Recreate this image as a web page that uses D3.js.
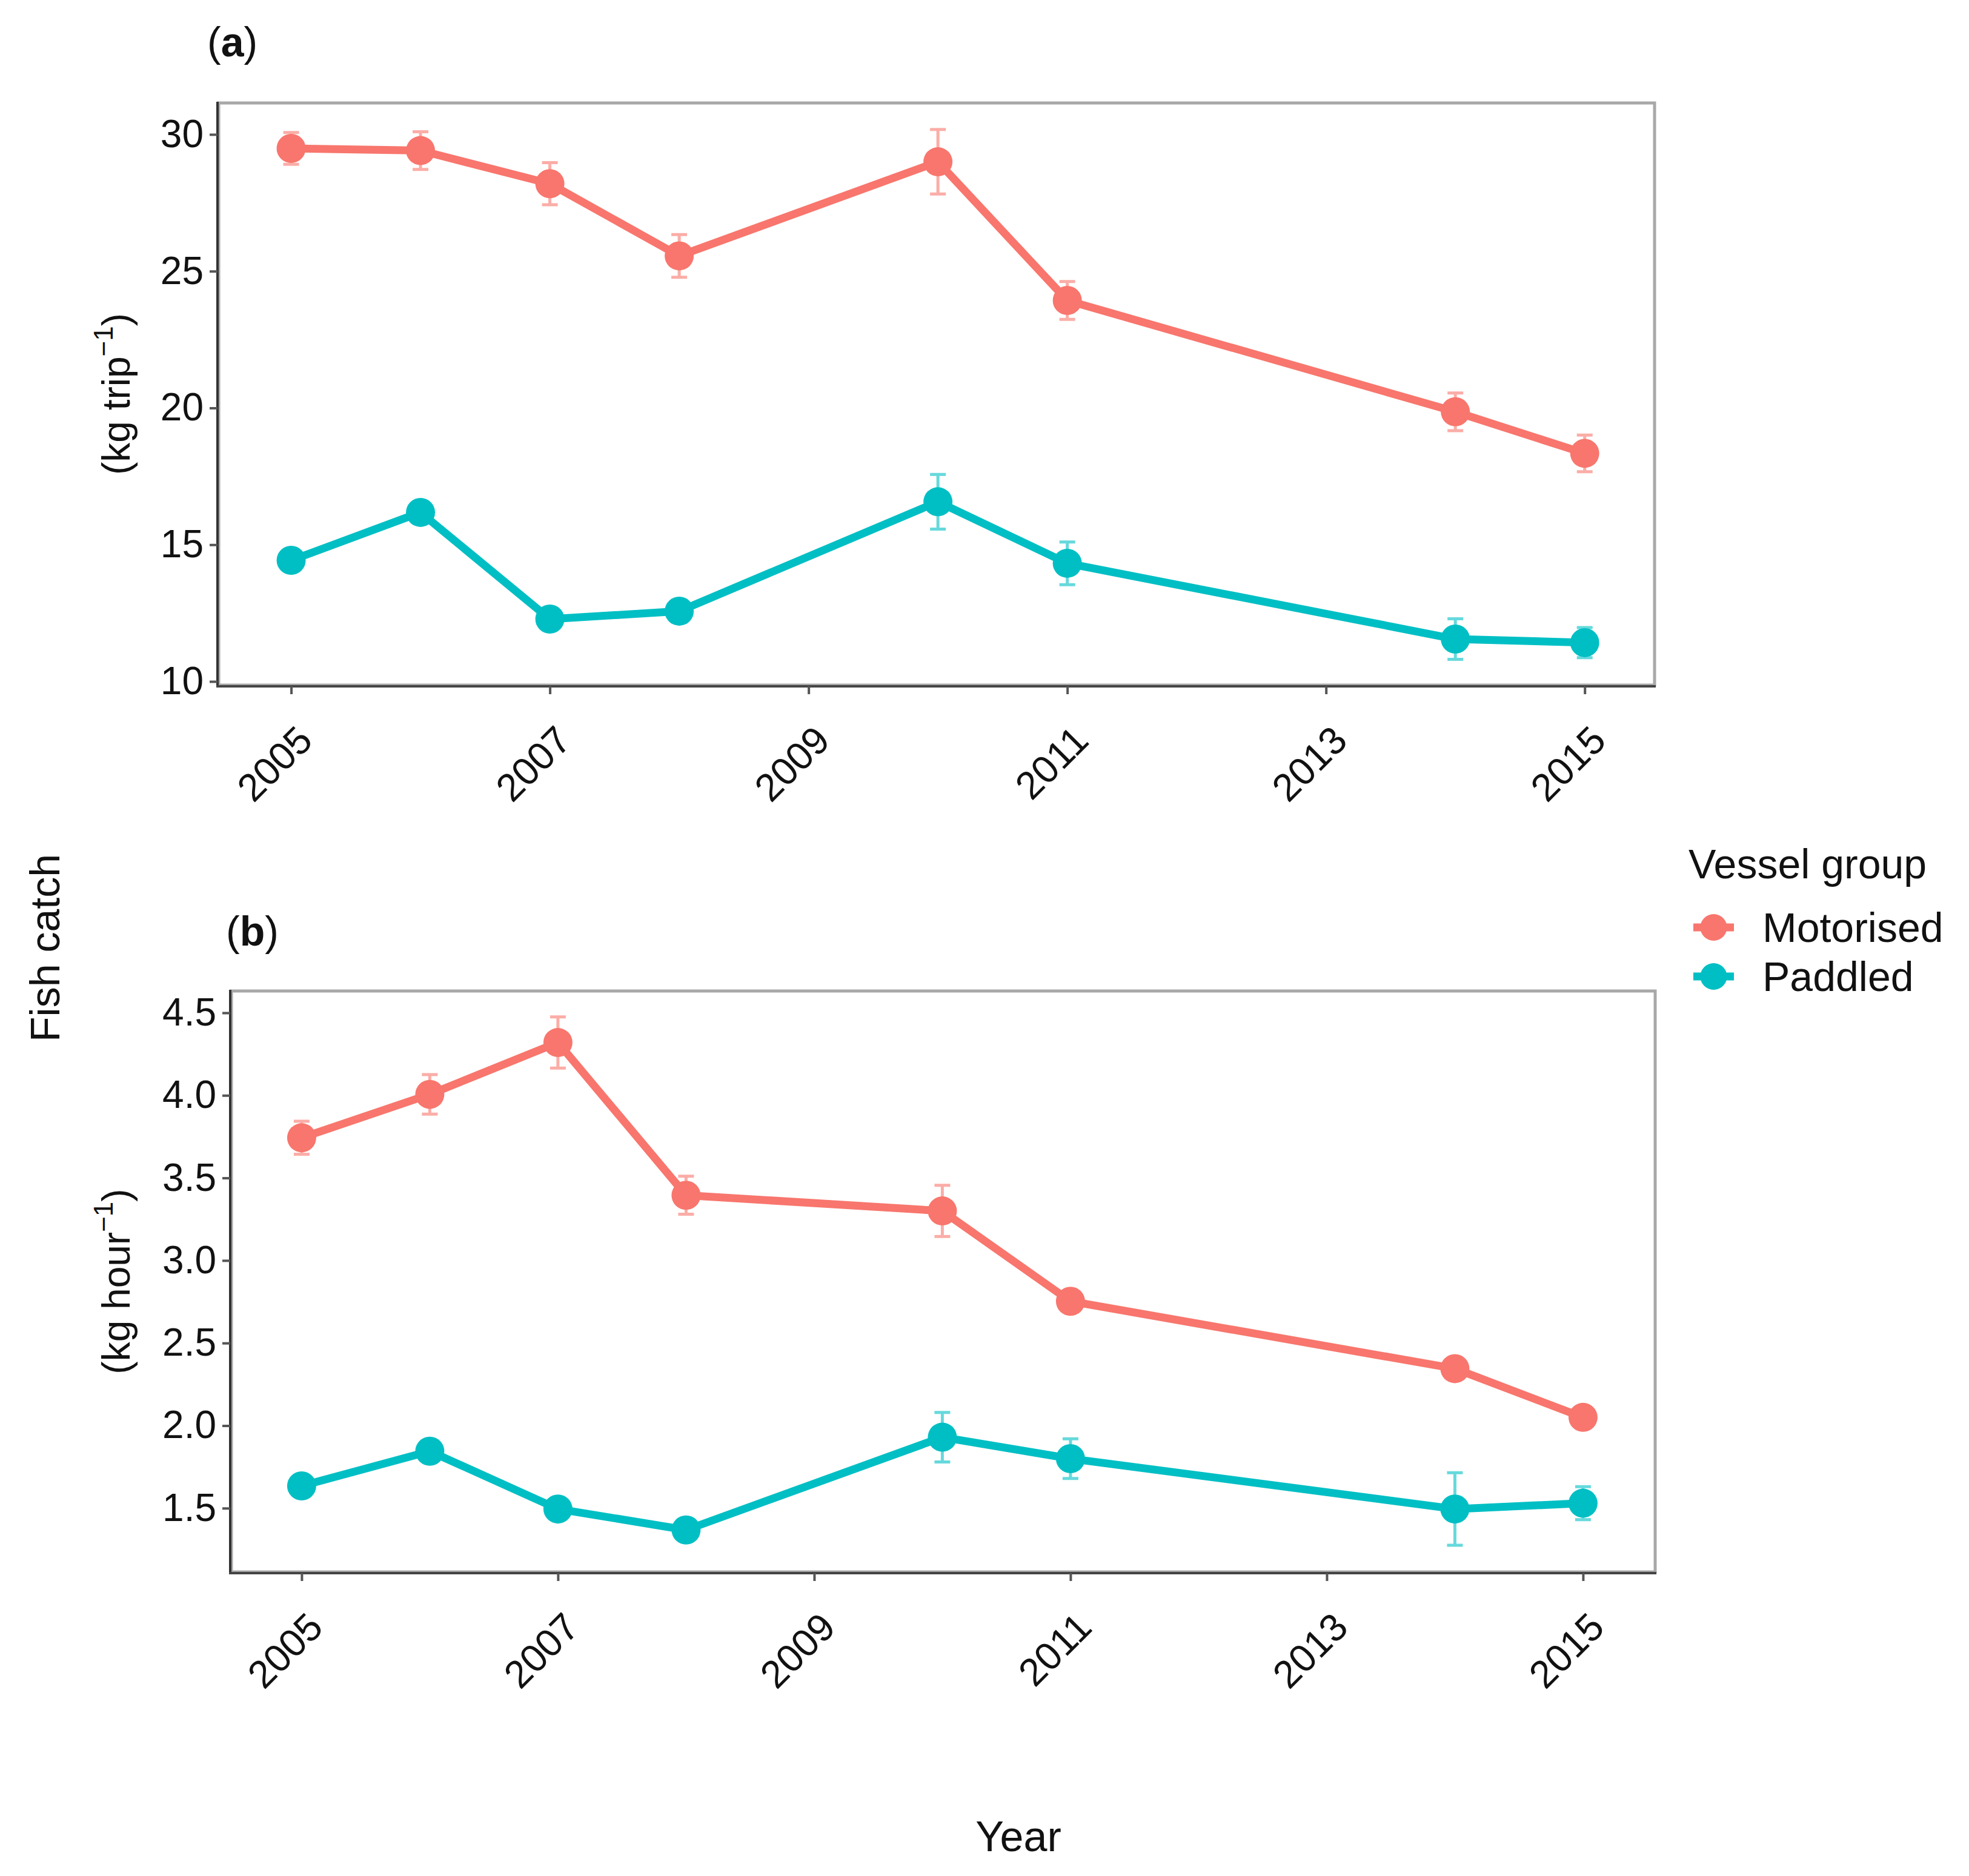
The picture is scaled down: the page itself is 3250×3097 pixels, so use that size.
<!DOCTYPE html>
<html>
<head>
<meta charset="utf-8">
<script src="https://cdn.jsdelivr.net/npm/d3@7"></script>
<style>
  body { margin: 0; background: #fff; }
  text { font-family: "Liberation Sans", Arial, sans-serif; fill: #111; }
</style>
</head>
<body>
<svg id="chart" width="3250" height="3097"></svg>
<script>
(function () {
    'use strict';

    // survey years
    var years = [2005, 2006, 2007, 2008, 2010, 2011, 2014, 2015];
    var groups = ['Motorised', 'Paddled'];
    var colors = ['#F8766D', '#00BFC4'];

    // (a) catch per trip, kg
    var tripMotorised = [29.49, 29.41, 28.2, 25.56, 29.0, 23.93, 19.86, 18.34];
    var tripMotorisedSe = [0.58, 0.69, 0.77, 0.78, 1.18, 0.69, 0.69, 0.67];
    var tripPaddled = [14.43, 16.18, 12.28, 12.57, 16.57, 14.32, 11.55, 11.42];
    var tripPaddledSe = [0.3, 0.3, 0.4, 0.4, 1.0, 0.78, 0.74, 0.55];

    // (b) catch per hour, kg
    var hourMotorised = [3.743, 4.006, 4.32, 3.395, 3.30, 2.753, 2.345, 2.05];
    var hourMotorisedSe = [0.1, 0.12, 0.155, 0.115, 0.155, 0.06, 0.06, 0.04];
    var hourPaddled = [1.635, 1.845, 1.495, 1.368, 1.93, 1.80, 1.495, 1.53];
    var hourPaddledSe = [0.04, 0.04, 0.04, 0.04, 0.15, 0.12, 0.22, 0.10];

    var xTicks = [2005, 2007, 2009, 2011, 2013, 2015];
    var tripTicks = [10, 15, 20, 25, 30];
    var hourTicks = [1.5, 2.0, 2.5, 3.0, 3.5, 4.0, 4.5];

    var svg = d3.select('#chart');

    function series(means, ses) {
        return years.map(function (y, i) { return {year: y, v: means[i], se: ses[i]}; });
    }

    function panel(opt) {
        var x = d3.scaleLinear().domain(opt.xdom).range([opt.left, opt.right]);
        var y = d3.scaleLinear().domain(opt.ydom).range([opt.bottom, opt.top]);
        var g = svg.append('g');

        // panel border (grey) and axis lines (dark)
        g.append('rect')
            .attr('x', opt.left).attr('y', opt.top)
            .attr('width', opt.right - opt.left).attr('height', opt.bottom - opt.top)
            .attr('fill', 'none').attr('stroke', '#a8a8a8').attr('stroke-width', 5);

        var yAxis = d3.axisLeft(y).tickValues(opt.yticks).tickSize(13).tickPadding(10)
            .tickFormat(opt.yfmt);
        var ya = g.append('g').attr('transform', 'translate(' + (opt.left - 2) + ',0)').call(yAxis);
        ya.select('.domain').attr('stroke', '#333').attr('stroke-width', 4)
            .attr('d', 'M0,' + (opt.top - 2) + 'V' + (opt.bottom + 2));
        ya.selectAll('.tick line').attr('stroke', '#555').attr('stroke-width', 4);
        ya.selectAll('.tick text').style('font-size', '64px').attr('fill', '#111');

        var xAxis = d3.axisBottom(x).tickValues(xTicks).tickSize(13).tickFormat(d3.format('d'));
        var xa = g.append('g').attr('transform', 'translate(0,' + (opt.bottom + 2) + ')').call(xAxis);
        xa.select('.domain').attr('stroke', '#444').attr('stroke-width', 4)
            .attr('d', 'M' + (opt.left - 4) + ',0H' + (opt.right + 2));
        xa.selectAll('.tick line').attr('stroke', '#555').attr('stroke-width', 4);
        xa.selectAll('.tick text')
            .style('font-size', '64px').attr('fill', '#111')
            .attr('text-anchor', 'end').attr('y', 0).attr('dy', 0)
            .attr('transform', 'translate(38,93) rotate(-45)');

        var line = d3.line().x(function (d) { return x(d.year); }).y(function (d) { return y(d.v); });

        opt.data.forEach(function (s, k) {
            g.append('path').datum(s)
                .attr('d', line).attr('fill', 'none')
                .attr('stroke', colors[k]).attr('stroke-width', 13)
                .attr('stroke-linejoin', 'round');
        });

        opt.data.forEach(function (s, k) {
            var eb = g.append('g').attr('stroke', colors[k]).attr('stroke-opacity', 0.6)
                .attr('stroke-width', 5).attr('fill', 'none');
            eb.selectAll('path').data(s).enter().append('path')
                .attr('d', function (d) {
                    var cx = x(d.year), y0 = y(d.v - d.se), y1 = y(d.v + d.se);
                    return 'M' + (cx - 13) + ',' + y1 + 'H' + (cx + 13) +
                        'M' + cx + ',' + y1 + 'V' + y0 +
                        'M' + (cx - 13) + ',' + y0 + 'H' + (cx + 13);
                });
        });

        opt.data.forEach(function (s, k) {
            g.selectAll(null).data(s).enter().append('circle')
                .attr('cx', function (d) { return x(d.year); })
                .attr('cy', function (d) { return y(d.v); })
                .attr('r', 24).attr('fill', colors[k]);
        });

        // panel tag
        var tag = g.append('text').attr('x', opt.tagX).attr('y', opt.tagY).style('font-size', '68px');
        tag.append('tspan').text('(');
        tag.append('tspan').style('font-weight', 'bold').text(opt.tag);
        tag.append('tspan').text(')');

        // unit label
        var cy = (opt.top + opt.bottom) / 2;
        var ul = g.append('text')
            .attr('transform', 'translate(' + opt.unitX + ',' + cy + ') rotate(-90)')
            .attr('text-anchor', 'middle').style('font-size', '64px');
        ul.append('tspan').text('(kg ' + opt.unit);
        ul.append('tspan').attr('dy', -28).style('font-size', '44px').text('\u22121');
        ul.append('tspan').attr('dy', 28).text(')');
    }

    panel({
        left: 361, right: 2731, top: 170, bottom: 1131,
        xdom: [2004.44, 2015.54], ydom: [9.867, 31.15],
        yticks: tripTicks, yfmt: d3.format('d'),
        data: [series(tripMotorised, tripMotorisedSe), series(tripPaddled, tripPaddledSe)],
        tag: 'a', tagX: 342, tagY: 93, unit: 'trip', unitX: 214
    });

    panel({
        left: 382, right: 2732, top: 1636, bottom: 2595,
        xdom: [2004.452, 2015.563], ydom: [1.114, 4.632],
        yticks: hourTicks, yfmt: d3.format('.1f'),
        data: [series(hourMotorised, hourMotorisedSe), series(hourPaddled, hourPaddledSe)],
        tag: 'b', tagX: 373, tagY: 1561, unit: 'hour', unitX: 214
    });

    // shared axis titles
    svg.append('text')
        .attr('transform', 'translate(98,1565) rotate(-90)')
        .attr('text-anchor', 'middle').style('font-size', '68px').text('Fish catch');
    svg.append('text')
        .attr('x', 1681).attr('y', 3056)
        .attr('text-anchor', 'middle').style('font-size', '70px').text('Year');

    // legend
    var lg = svg.append('g');
    lg.append('text').attr('x', 2787).attr('y', 1450).style('font-size', '68px').text('Vessel group');
    var item = lg.selectAll('g.item').data(groups).enter().append('g')
        .attr('transform', function (d, i) { return 'translate(0,' + (1531 + i * 81) + ')'; });
    item.append('line').attr('x1', 2795).attr('x2', 2862)
        .attr('stroke', function (d, i) { return colors[i]; }).attr('stroke-width', 13);
    item.append('circle').attr('cx', 2828.5).attr('r', 22)
        .attr('fill', function (d, i) { return colors[i]; });
    item.append('text').attr('x', 2909).attr('y', 24).style('font-size', '68px')
        .text(function (d) { return d; });

}());
</script>
</body>
</html>
